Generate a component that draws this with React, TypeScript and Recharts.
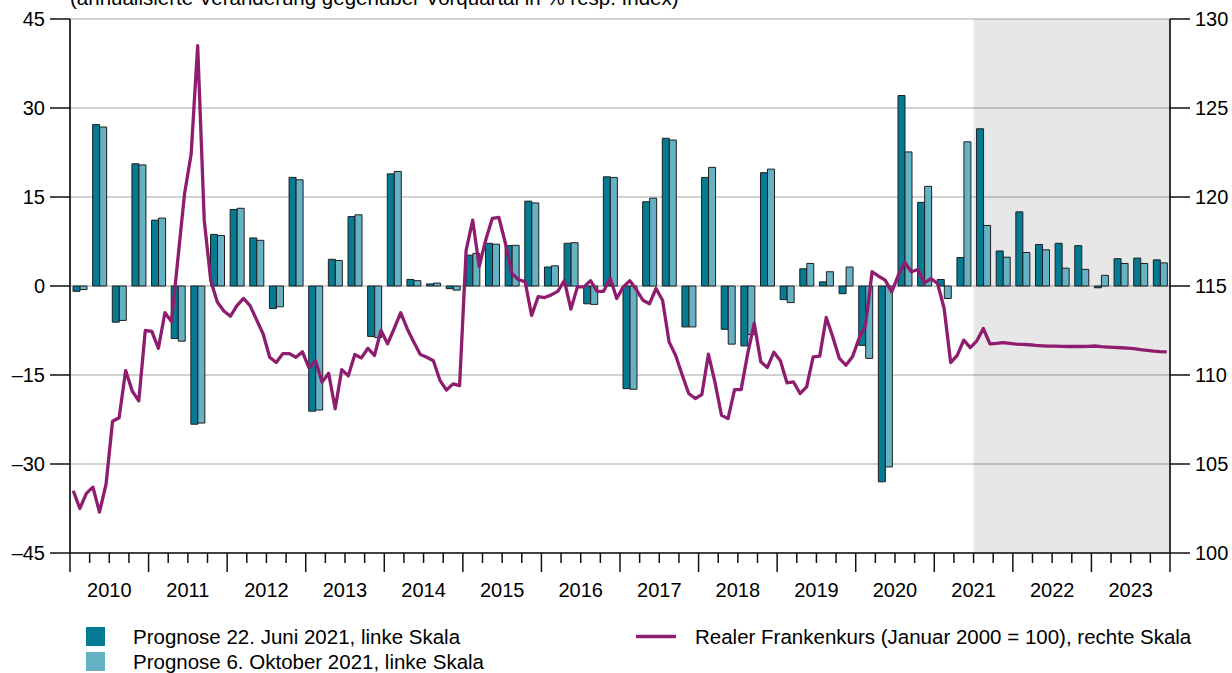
import React from 'react';
import { ComposedChart, Bar, Line, XAxis, YAxis, CartesianGrid, ReferenceArea } from 'recharts';

// ---------- data ----------
const years = ['2010', '2011', '2012', '2013', '2014', '2015', '2016', '2017', '2018', '2019', '2020', '2021', '2022', '2023'];
const quarterNames = ['Q1', 'Q2', 'Q3', 'Q4'];

// Prognose 22. Juni 2021 (linke Skala), quarterly 2010Q1..2023Q4
const prognoseJuni = [
  -0.9, 27.2, -6.1, 20.6,
  11.1, -8.85, -23.3, 8.7,
  12.9, 8.1, -3.8, 18.3,
  -21.1, 4.5, 11.7, -8.5,
  18.9, 1.1, 0.35, -0.45,
  5.2, 7.2, 6.8, 14.3,
  3.2, 7.2, -3.0, 18.4,
  -17.3, 14.2, 24.9, -6.9,
  18.3, -7.3, -10.1, 19.1,
  -2.3, 2.9, 0.7, -1.3,
  -10.0, -33.0, 32.1, 14.1,
  1.1, 4.8, 26.5, 5.9,
  12.5, 7.0, 7.2, 6.8,
  -0.3, 4.6, 4.7, 4.4,
];

// Prognose 6. Oktober 2021 (linke Skala)
const prognoseOktober = [
  -0.6, 26.8, -5.8, 20.4,
  11.45, -9.3, -23.1, 8.5,
  13.1, 7.7, -3.5, 17.9,
  -20.9, 4.3, 12.0, -8.7,
  19.3, 0.9, 0.5, -0.7,
  5.5, 7.05, 6.85, 14.0,
  3.4, 7.3, -3.1, 18.3,
  -17.4, 14.8, 24.6, -6.9,
  20.0, -9.8, -8.2, 19.7,
  -2.8, 3.8, 2.4, 3.2,
  -12.2, -30.5, 22.6, 16.8,
  -2.1, 24.3, 10.2, 4.85,
  5.65, 6.1, 3.0, 2.8,
  1.8, 3.8, 3.8, 3.9,
];

// Realer Frankenkurs (Januar 2000 = 100), rechte Skala, monthly Jan 2010..Dec 2023
const frankenkurs = [
  // 2010
  103.5, 102.5, 103.35, 103.7, 102.3, 103.85, 107.4, 107.6, 110.25, 109.1, 108.55, 112.5,
  // 2011
  112.45, 111.5, 113.5, 113.0, 116.6, 120.2, 122.4, 128.5, 118.7, 115.3, 114.1, 113.6,
  // 2012
  113.3, 113.9, 114.3, 113.9, 113.1, 112.3, 111.0, 110.7, 111.2, 111.2, 111.0, 111.3,
  // 2013
  110.4, 110.8, 109.6, 110.1, 108.1, 110.3, 109.95, 111.15, 110.96, 111.5, 111.1, 112.5,
  // 2014
  111.75, 112.6, 113.5, 112.6, 111.85, 111.15, 111.0, 110.8, 109.7, 109.15, 109.5, 109.4,
  // 2015
  117.0, 118.7, 116.1, 117.6, 118.8, 118.85, 117.4, 115.7, 115.35, 115.25, 113.35, 114.4,
  // 2016
  114.35, 114.5, 114.7, 115.3, 113.7, 114.95, 114.95, 115.3, 114.7, 114.7, 115.45, 114.3,
  // 2017
  114.95, 115.3, 114.8, 114.2, 114.0, 114.86, 114.2, 111.86, 111.1, 110.0, 108.96, 108.68,
  // 2018
  108.9, 111.17, 109.6, 107.74, 107.55, 109.18, 109.18, 111.2, 112.9, 110.74, 110.42, 111.28,
  // 2019
  110.8, 109.56, 109.61, 108.96, 109.33, 111.02, 111.06, 113.23, 112.14, 110.93, 110.55, 111.02,
  // 2020
  112.05, 112.8, 115.8, 115.55, 115.33, 114.67, 115.6, 116.32, 115.8, 115.93, 115.18, 115.42,
  // 2021
  115.14, 113.75, 110.7, 111.1, 111.96, 111.54, 111.92, 112.61, 111.75, 111.78, 111.82, 111.78,
  // 2022
  111.74, 111.72, 111.7, 111.66, 111.64, 111.62, 111.62, 111.61, 111.6, 111.6, 111.6, 111.61,
  // 2023
  111.63, 111.59, 111.57, 111.55, 111.53, 111.51, 111.48, 111.42, 111.38, 111.34, 111.31, 111.3,
];

const leftTicks = [-45, -30, -15, 0, 15, 30, 45];
const rightTicks = [100, 105, 110, 115, 120, 125, 130];
const forecastStartMonth = 138; // July 2021
const forecastEndMonth = 168;

const legendLabels = {
  juni: 'Prognose 22. Juni 2021, linke Skala',
  oktober: 'Prognose 6. Oktober 2021, linke Skala',
  kurs: 'Realer Frankenkurs (Januar 2000 = 100), rechte Skala',
};
const titleText = '(annualisierte Veränderung gegenüber Vorquartal in % resp. Index)';

const quarterLabels = years.flatMap((y) => quarterNames.map((q) => `${y} ${q}`));
const barData = quarterLabels.map((q, i) => ({ q, juni: prognoseJuni[i], oktober: prognoseOktober[i] }));
const lineData = frankenkurs.map((v, i) => ({ t: i + 0.5, kurs: v }));

// ---------- layout ----------
const W = 1232;
const H = 673;
const PLOT_LEFT = 70;
const PLOT_RIGHT = 1170;
const PLOT_TOP = 19;
const PLOT_BOTTOM = 553;
const PLOT_W = PLOT_RIGHT - PLOT_LEFT;
const FONT = '"Liberation Sans", Arial, Helvetica, sans-serif';

const DARK = '#047b93';
const LIGHT = '#66b2c5';
const PURPLE = '#8e1d6f';
const AXIS = '#111111';

const fmtLeft = (v: number) => (v < 0 ? `–${Math.abs(v)}` : `${v}`);

const QuarterTick = (props: any) => {
  const { x, index } = props;
  const bw = PLOT_W / quarterLabels.length;
  const left = x - bw / 2;
  const isYearStart = index % 4 === 0;
  const yearIdx = Math.floor(index / 4);
  return (
    <g>
      <line x1={left} x2={left} y1={PLOT_BOTTOM} y2={PLOT_BOTTOM + (isYearStart ? 19 : 10)} stroke={AXIS} strokeWidth={1.5} />
      {index === quarterLabels.length - 1 && (
        <line x1={x + bw / 2} x2={x + bw / 2} y1={PLOT_BOTTOM} y2={PLOT_BOTTOM + 19} stroke={AXIS} strokeWidth={1.5} />
      )}
      {index % 4 === 1 && (
        <text x={x + bw / 2} y={597} textAnchor="middle" fontSize={20} fontFamily={FONT} fill="#000">
          {years[yearIdx]}
        </text>
      )}
    </g>
  );
};

export default function App() {
  return (
    <div style={{ position: 'absolute', left: 0, top: 0, width: W, height: H, background: '#fff', fontFamily: FONT, overflow: 'hidden' }}>
      <ComposedChart
        width={W}
        height={H}
        data={barData}
        margin={{ top: PLOT_TOP, right: 0, bottom: 0, left: 0 }}
        barGap={0}
        barSize={7}
      >
        <XAxis xAxisId="m" type="number" dataKey="t" domain={[0, forecastEndMonth]} allowDataOverflow hide height={0} />
        <XAxis
          xAxisId="q"
          dataKey="q"
          type="category"
          height={H - PLOT_BOTTOM}
          interval={0}
          tickLine={false}
          tickSize={0}
          tickMargin={0}
          axisLine={{ stroke: AXIS, strokeWidth: 1.7 }}
          tick={<QuarterTick />}
        />
        <YAxis
          yAxisId="left"
          orientation="left"
          width={PLOT_LEFT}
          domain={[-45, 45]}
          ticks={leftTicks}
          interval={0}
          allowDataOverflow
          tickFormatter={fmtLeft}
          tickSize={20}
          tickMargin={5}
          axisLine={{ stroke: AXIS, strokeWidth: 1.7 }}
          tickLine={{ stroke: AXIS, strokeWidth: 1.5 }}
          tick={{ fontSize: 20, fill: '#000', fontFamily: FONT }}
        />
        <YAxis
          yAxisId="right"
          orientation="right"
          width={W - PLOT_RIGHT}
          domain={[100, 130]}
          ticks={rightTicks}
          interval={0}
          allowDataOverflow
          tickSize={20}
          tickMargin={5}
          axisLine={{ stroke: AXIS, strokeWidth: 1.7 }}
          tickLine={{ stroke: AXIS, strokeWidth: 1.5 }}
          tick={{ fontSize: 20, fill: '#000', fontFamily: FONT, textAnchor: 'start' }}
        />
        <CartesianGrid xAxisId="q" yAxisId="left" vertical={false} stroke="#d2d2d2" strokeWidth={1.8} />
        <ReferenceArea
          xAxisId="m"
          yAxisId="left"
          x1={forecastStartMonth}
          x2={forecastEndMonth}
          fill="#000"
          fillOpacity={0.093}
          stroke="none"
        />
        <Bar xAxisId="q" yAxisId="left" dataKey="juni" fill={DARK} stroke="#1e1e1e" strokeWidth={1} isAnimationActive={false} />
        <Bar xAxisId="q" yAxisId="left" dataKey="oktober" fill={LIGHT} stroke="#1e1e1e" strokeWidth={1} isAnimationActive={false} />
        <Line
          xAxisId="m"
          yAxisId="right"
          data={lineData}
          dataKey="kurs"
          type="linear"
          stroke={PURPLE}
          strokeWidth={3.3}
          strokeLinejoin="round"
          dot={false}
          activeDot={false}
          isAnimationActive={false}
        />
      </ComposedChart>
      <svg width={W} height={H} style={{ position: 'absolute', left: 0, top: 0, pointerEvents: 'none' }}>
        <text x={70} y={5} fontSize={20.5} fontFamily={FONT} fill="#000">{titleText}</text>
        <rect x={86} y={627} width={19} height={19} fill={DARK} />
        <rect x={86} y={652} width={19} height={19} fill={LIGHT} />
        <text x={133} y={643.5} fontSize={20.5} fontFamily={FONT} fill="#000">{legendLabels.juni}</text>
        <text x={133} y={668.5} fontSize={20.5} fontFamily={FONT} fill="#000">{legendLabels.oktober}</text>
        <line x1={636} x2={676} y1={636.5} y2={636.5} stroke={PURPLE} strokeWidth={3.5} />
        <text x={695} y={643.5} fontSize={20.5} fontFamily={FONT} fill="#000">{legendLabels.kurs}</text>
      </svg>
    </div>
  );
}
